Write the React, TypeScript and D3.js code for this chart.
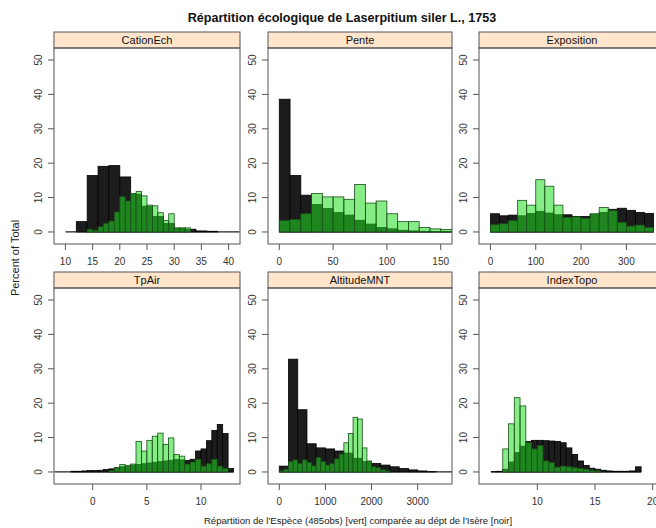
import React, { useEffect, useRef } from 'react';
import * as d3 from 'd3';

// panel names, in lattice order (left to right, top to bottom)
const panelNames = ['CationEch', 'Pente', 'Exposition', 'TpAir', 'AltitudeMNT', 'IndexTopo'];

// x axis tick labels per panel
const cationTicks = [10, 15, 20, 25, 30, 35, 40];
const penteTicks = [0, 50, 100, 150];
const expoTicks = [0, 100, 200, 300];
const tpairTicks = [0, 5, 10];
const altTicks = [0, 1000, 2000, 3000];
const topoTicks = [10, 15, 20];
const yTicks = [0, 10, 20, 30, 40, 50];

// x limits of each panel (data range padded like lattice)
const cationLim = [7.9, 42.1];
const penteLim = [-10.5, 160.5];
const expoLim = [-25.2, 385.2];
const tpairLim = [-3.57, 13.6];
const altLim = [-245, 3745];
const topoLim = [4.94, 21.07];
const yLim = [-3.5, 53.5];

// histograms: first break, bin width, percent of total per bin
// black = département de l'Isère, green = espèce
const cationBlackStart = 10, cationBlackWidth = 2;
const cationBlack = [0, 3.0, 16.4, 19.1, 19.3, 16.0, 11.0, 7.5, 4.5, 2.5, 1.0, 0.8, 0.3, 0.2, 0, 0];
const cationGreenStart = 14, cationGreenWidth = 1;
const cationGreen = [0.8, 0.4, 1.5, 2.5, 3.2, 5.8, 10.3, 9.0, 11.2, 11.8, 10.5, 7.8, 7.6, 5.6, 3.3, 5.3, 1.2, 1.2, 1.2];

const penteBlackStart = 0, penteBlackWidth = 10;
const penteBlack = [38.6, 16.4, 10.7, 8.0, 6.8, 5.7, 4.9, 3.4, 2.3, 1.3, 0.9, 0.5, 0.3, 0.2, 0.1, 0.1];
const penteGreenStart = 0, penteGreenWidth = 10;
const penteGreen = [3.3, 3.6, 5.3, 11.2, 10.2, 10.2, 9.5, 13.8, 8.4, 9.0, 5.3, 3.0, 3.0, 1.3, 0.9, 0.7];

const expoBlackStart = 0, expoBlackWidth = 20;
const expoBlack = [5.3, 4.7, 4.9, 4.7, 5.4, 6.0, 5.5, 5.0, 5.0, 4.5, 4.5, 5.1, 5.7, 6.6, 6.9, 6.3, 5.7, 5.4];
const expoGreenStart = 0, expoGreenWidth = 20;
const expoGreen = [2.1, 2.4, 3.3, 9.2, 7.8, 15.2, 13.3, 7.8, 4.2, 4.4, 4.0, 5.3, 7.1, 6.2, 2.8, 1.7, 2.0, 1.3];

const tpairBlackStart = -3.5, tpairBlackWidth = 0.5;
const tpairBlack = [0, 0, 0, 0.2, 0.2, 0.3, 0.4, 0.4, 0.5, 0.7, 0.9, 1.2, 1.5, 1.7, 2.0, 2.2, 2.4, 2.6, 2.8, 3.0, 3.2, 3.4, 3.6, 3.5, 3.3, 3.7, 6.1, 6.7, 9.1, 12.1, 13.8, 11.2, 1.0];
const tpairGreenStart = 1.5, tpairGreenWidth = 0.5;
const tpairGreen = [0.4, 1.2, 2.2, 1.8, 2.3, 8.9, 6.1, 9.2, 10.4, 11.3, 8.0, 9.9, 5.1, 4.6, 2.3, 2.9, 3.7, 1.7, 2.4, 3.7, 1.7, 1.0];

const altBlackStart = 0, altBlackWidth = 200;
const altBlack = [1.7, 32.8, 18.1, 8.2, 7.0, 6.7, 6.1, 5.5, 4.0, 3.0, 2.5, 2.0, 1.5, 1.0, 0.6, 0.3, 0.1, 0, 0];
const altGreenStart = 0, altGreenWidth = 100;
const altGreen = [0.3, 0.8, 3.0, 3.5, 2.5, 3.5, 2.8, 1.8, 4.2, 3.0, 2.0, 2.5, 3.8, 5.2, 8.5, 11.2, 15.9, 15.4, 7.0, 3.2, 1.5, 1.2, 0.6, 0.3];

const topoBlackStart = 6, topoBlackWidth = 0.5;
const topoBlack = [0.1, 0.2, 0.8, 2.9, 5.6, 7.5, 8.9, 9.2, 9.2, 9.1, 9.0, 8.9, 8.5, 7.0, 5.1, 3.2, 1.9, 1.1, 0.8, 0.5, 0.3, 0.2, 0.2, 0.2, 0.3, 1.5];
const topoGreenStart = 7, topoGreenWidth = 0.5;
const topoGreen = [6.7, 14.0, 21.6, 19.2, 8.5, 6.7, 7.7, 3.2, 2.7, 1.4, 1.7, 1.5, 1.2, 1.0, 0.8, 0.5, 0.3];

const toBins = (start: number, width: number, values: number[]) =>
  values.map((v, i) => ({ x0: start + i * width, x1: start + (i + 1) * width, v }));

const panels = [
  { lim: cationLim, ticks: cationTicks, black: toBins(cationBlackStart, cationBlackWidth, cationBlack), green: toBins(cationGreenStart, cationGreenWidth, cationGreen) },
  { lim: penteLim, ticks: penteTicks, black: toBins(penteBlackStart, penteBlackWidth, penteBlack), green: toBins(penteGreenStart, penteGreenWidth, penteGreen) },
  { lim: expoLim, ticks: expoTicks, black: toBins(expoBlackStart, expoBlackWidth, expoBlack), green: toBins(expoGreenStart, expoGreenWidth, expoGreen) },
  { lim: tpairLim, ticks: tpairTicks, black: toBins(tpairBlackStart, tpairBlackWidth, tpairBlack), green: toBins(tpairGreenStart, tpairGreenWidth, tpairGreen) },
  { lim: altLim, ticks: altTicks, black: toBins(altBlackStart, altBlackWidth, altBlack), green: toBins(altGreenStart, altGreenWidth, altGreen) },
  { lim: topoLim, ticks: topoTicks, black: toBins(topoBlackStart, topoBlackWidth, topoBlack), green: toBins(topoGreenStart, topoGreenWidth, topoGreen) },
];

const W = 656;
const H = 528;
const colX = [54, 268, 479];
const colW = [186, 184, 186];
const rowY = [48, 288];
const panelH = 196;
const stripH = 16;
const font = 'Liberation Sans, Arial, sans-serif';
const lineCol = '#555';

const App = () => {
  const chartRef = useRef(null);

  useEffect(() => {
    d3.select(chartRef.current).selectAll('*').remove();

    const svg = d3
      .select(chartRef.current)
      .append('svg')
      .attr('width', W)
      .attr('height', H)
      .style('position', 'absolute')
      .style('left', '0px')
      .style('top', '0px')
      .style('font-family', font);

    svg.append('rect').attr('width', W).attr('height', H).attr('fill', '#fff');

    // main title
    svg
      .append('text')
      .attr('x', 342)
      .attr('y', 22)
      .attr('text-anchor', 'middle')
      .attr('font-size', 12.6)
      .attr('font-weight', 'bold')
      .attr('fill', '#111')
      .text('Répartition écologique de Laserpitium siler L., 1753');

    // y label
    svg
      .append('text')
      .attr('transform', 'translate(19,258) rotate(-90)')
      .attr('text-anchor', 'middle')
      .attr('font-size', 11)
      .attr('fill', '#222')
      .text('Percent of Total');

    // x label
    svg
      .append('text')
      .attr('x', 358)
      .attr('y', 524)
      .attr('text-anchor', 'middle')
      .attr('font-size', 9.6)
      .attr('fill', '#222')
      .text("Répartition de l'Espèce (485obs) [vert] comparée au dépt de l'Isère [noir]");

    panels.forEach((p, i) => {
      const col = i % 3;
      const row = Math.floor(i / 3);
      const left = colX[col];
      const width = colW[col];
      const top = rowY[row];

      const x = d3.scaleLinear().domain(p.lim).range([left, left + width]);
      const y = d3.scaleLinear().domain(yLim).range([top + panelH, top]);

      const g = svg.append('g');

      // strip
      g.append('rect')
        .attr('x', left)
        .attr('y', top - stripH)
        .attr('width', width)
        .attr('height', stripH)
        .attr('fill', '#ffe5cc')
        .attr('stroke', lineCol);
      g.append('text')
        .attr('x', left + width / 2)
        .attr('y', top - 4)
        .attr('text-anchor', 'middle')
        .attr('font-size', 11)
        .attr('fill', '#111')
        .text(panelNames[i]);

      const clipId = `clip-${i}`;
      svg
        .append('clipPath')
        .attr('id', clipId)
        .append('rect')
        .attr('x', left)
        .attr('y', top)
        .attr('width', width)
        .attr('height', panelH);

      const plot = g.append('g').attr('clip-path', `url(#${clipId})`);

      // zero baseline over the département range
      plot
        .append('line')
        .attr('x1', x(p.black[0].x0))
        .attr('x2', x(p.black[p.black.length - 1].x1))
        .attr('y1', y(0))
        .attr('y2', y(0))
        .attr('stroke', '#222')
        .attr('stroke-width', 1.2);

      // département (black)
      plot
        .selectAll('.bk')
        .data(p.black.filter((d) => d.v > 0))
        .enter()
        .append('rect')
        .attr('x', (d) => x(d.x0))
        .attr('y', (d) => y(d.v))
        .attr('width', (d) => x(d.x1) - x(d.x0))
        .attr('height', (d) => y(0) - y(d.v))
        .attr('fill', '#1c1c1c')
        .attr('stroke', '#000')
        .attr('stroke-width', 0.8);

      // espèce (semi transparent green)
      plot
        .selectAll('.gr')
        .data(p.green.filter((d) => d.v > 0))
        .enter()
        .append('rect')
        .attr('x', (d) => x(d.x0))
        .attr('y', (d) => y(d.v))
        .attr('width', (d) => x(d.x1) - x(d.x0))
        .attr('height', (d) => y(0) - y(d.v))
        .attr('fill', '#22dd22')
        .attr('fill-opacity', 0.55)
        .attr('stroke', '#1a4f1a')
        .attr('stroke-width', 0.8);

      // panel border
      g.append('rect')
        .attr('x', left)
        .attr('y', top)
        .attr('width', width)
        .attr('height', panelH)
        .attr('fill', 'none')
        .attr('stroke', lineCol);

      // y axis
      yTicks.forEach((t) => {
        g.append('line')
          .attr('x1', left - 6)
          .attr('x2', left)
          .attr('y1', y(t))
          .attr('y2', y(t))
          .attr('stroke', lineCol);
        g.append('text')
          .attr('transform', `translate(${left - 12},${y(t)}) rotate(-90)`)
          .attr('text-anchor', 'middle')
          .attr('font-size', 10)
          .attr('fill', '#333')
          .text(t);
      });

      // x axis
      p.ticks.forEach((t) => {
        g.append('line')
          .attr('x1', x(t))
          .attr('x2', x(t))
          .attr('y1', top + panelH)
          .attr('y2', top + panelH + 6)
          .attr('stroke', lineCol);
        g.append('text')
          .attr('x', x(t))
          .attr('y', top + panelH + 21)
          .attr('text-anchor', 'middle')
          .attr('font-size', 10)
          .attr('fill', '#333')
          .text(t);
      });
    });
  }, []);

  return <div ref={chartRef}></div>;
};

export default App;
